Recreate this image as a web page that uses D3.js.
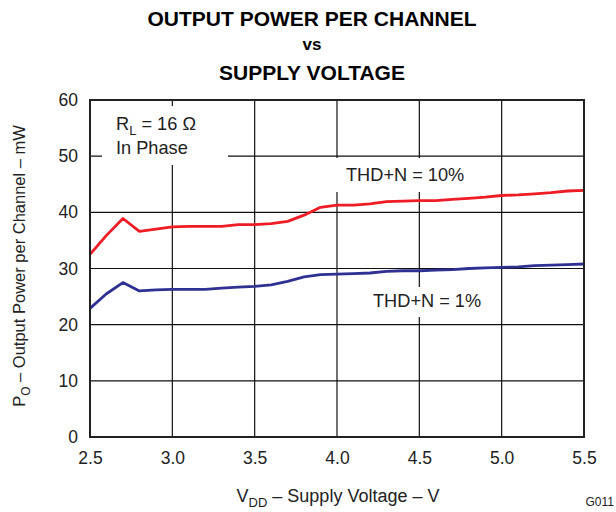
<!DOCTYPE html>
<html><head><meta charset="utf-8">
<script src="https://cdn.jsdelivr.net/npm/d3@7"></script>
<style>body{margin:0;background:#fff;}svg{display:block;font-family:"Liberation Sans",Arial,sans-serif;}</style>
</head><body>
<script>
const voltages = [2.5,2.6,2.7,2.8,2.9,3.0,3.1,3.2,3.3,3.4,3.5,3.6,3.7,3.8,3.9,4.0,4.1,4.2,4.3,4.4,4.5,4.6,4.7,4.8,4.9,5.0,5.1,5.2,5.3,5.4,5.5];
const thd10 = [32.5,35.9,38.9,36.6,37.0,37.4,37.5,37.5,37.5,37.8,37.8,38.0,38.4,39.5,40.9,41.3,41.3,41.5,41.9,42.0,42.1,42.1,42.3,42.5,42.7,43.0,43.1,43.3,43.5,43.8,43.9];
const thd1 = [22.9,25.5,27.5,26.0,26.2,26.3,26.3,26.3,26.5,26.7,26.8,27.1,27.7,28.5,28.9,29.0,29.1,29.2,29.5,29.6,29.6,29.7,29.8,30.0,30.1,30.2,30.3,30.5,30.6,30.7,30.8];
const xTicks = [2.5,3.0,3.5,4.0,4.5,5.0,5.5];
const yTicks = [0,10,20,30,40,50,60];
const titleLines = ["OUTPUT POWER PER CHANNEL","vs","SUPPLY VOLTAGE"];

const W=616,H=512;
const m={left:90,right:32,top:100,bottom:75};
const FS=17.5, FA=18.2;
const svg=d3.select("body").append("svg").attr("width",W).attr("height",H);
const x=d3.scaleLinear().domain([2.5,5.5]).range([m.left,W-m.right]);
const y=d3.scaleLinear().domain([0,60]).range([H-m.bottom,m.top]);

// grid
const g=svg.append("g");
g.selectAll("line.v").data(xTicks.slice(1,-1)).join("line")
 .attr("x1",d=>x(d)).attr("x2",d=>x(d)).attr("y1",y(0)).attr("y2",y(60))
 .attr("stroke","#111").attr("stroke-width",1.2);
g.selectAll("line.h").data(yTicks.slice(1,-1)).join("line")
 .attr("y1",d=>y(d)).attr("y2",d=>y(d)).attr("x1",x(2.5)).attr("x2",x(5.5))
 .attr("stroke","#111").attr("stroke-width",1.2);

// axes labels via d3 axes
const xa=svg.append("g").attr("transform",`translate(0,${y(0)})`)
 .call(d3.axisBottom(x).tickValues(xTicks).tickFormat(d3.format(".1f")).tickSize(0).tickPadding(15));
xa.select(".domain").remove();
xa.selectAll("text").attr("font-size",FS).attr("fill","#222").attr("font-family","Liberation Sans, Arial");
const ya=svg.append("g").attr("transform",`translate(${x(2.5)},0)`)
 .call(d3.axisLeft(y).tickValues(yTicks).tickSize(0).tickPadding(12));
ya.select(".domain").remove();
ya.selectAll("text").attr("font-size",FS).attr("fill","#222").attr("font-family","Liberation Sans, Arial");

// annotation boxes
function box(x0,y0,w,h){svg.append("rect").attr("x",x0).attr("y",y0).attr("width",w).attr("height",h).attr("fill","#fff");}
box(102,106,126,59);
box(333,158,145,34);
box(365,287,125,30);

// lines
const line=d3.line().x((d,i)=>x(voltages[i])).y(d=>y(d));
svg.append("path").datum(thd10).attr("d",line).attr("fill","none").attr("stroke","#ee1c25").attr("stroke-width",2.8).attr("stroke-linejoin","round");
svg.append("path").datum(thd1).attr("d",line).attr("fill","none").attr("stroke","#2e3192").attr("stroke-width",2.8).attr("stroke-linejoin","round");

// frame
svg.append("rect").attr("x",x(2.5)).attr("y",y(60)).attr("width",x(5.5)-x(2.5)).attr("height",y(0)-y(60))
 .attr("fill","none").attr("stroke","#222").attr("stroke-width",2);

// texts
const t1=svg.append("text").attr("x",116).attr("y",130).attr("font-size",FA).attr("fill","#222");
t1.append("tspan").text("R");
t1.append("tspan").attr("font-size",13).attr("dy",5).text("L");
t1.append("tspan").attr("dy",-5).text(" = 16 Ω");
svg.append("text").attr("x",116).attr("y",154).attr("font-size",FA).attr("fill","#222").text("In Phase");
svg.append("text").attr("x",346).attr("y",181).attr("font-size",FA).attr("fill","#222").text("THD+N = 10%");
svg.append("text").attr("x",373).attr("y",307).attr("font-size",FA).attr("fill","#222").text("THD+N = 1%");

// title
const tt=[{t:titleLines[0],y:26,s:21},{t:titleLines[1],y:50,s:17},{t:titleLines[2],y:80,s:21}];
svg.selectAll("text.title").data(tt).join("text").attr("class","title")
 .attr("x",312).attr("y",d=>d.y).attr("text-anchor","middle").attr("font-weight","bold")
 .attr("font-size",d=>d.s).attr("fill","#000").text(d=>d.t);

// x title
const xt=svg.append("text").attr("x",338).attr("y",502).attr("text-anchor","middle").attr("font-size",18).attr("fill","#222");
xt.append("tspan").text("V");
xt.append("tspan").attr("font-size",13).attr("dy",5).text("DD");
xt.append("tspan").attr("dy",-5).text(" – Supply Voltage – V");

// y title
const yt=svg.append("text").attr("transform",`translate(25,266) rotate(-90)`).attr("text-anchor","middle").attr("font-size",16.5).attr("fill","#222");
yt.append("tspan").text("P");
yt.append("tspan").attr("font-size",12).attr("dy",5).text("O");
yt.append("tspan").attr("dy",-5).text(" – Output Power per Channel – mW");

svg.append("text").attr("x",614).attr("y",506).attr("text-anchor","end").attr("font-size",12).attr("fill","#222").text("G011");
</script>
</body></html>
